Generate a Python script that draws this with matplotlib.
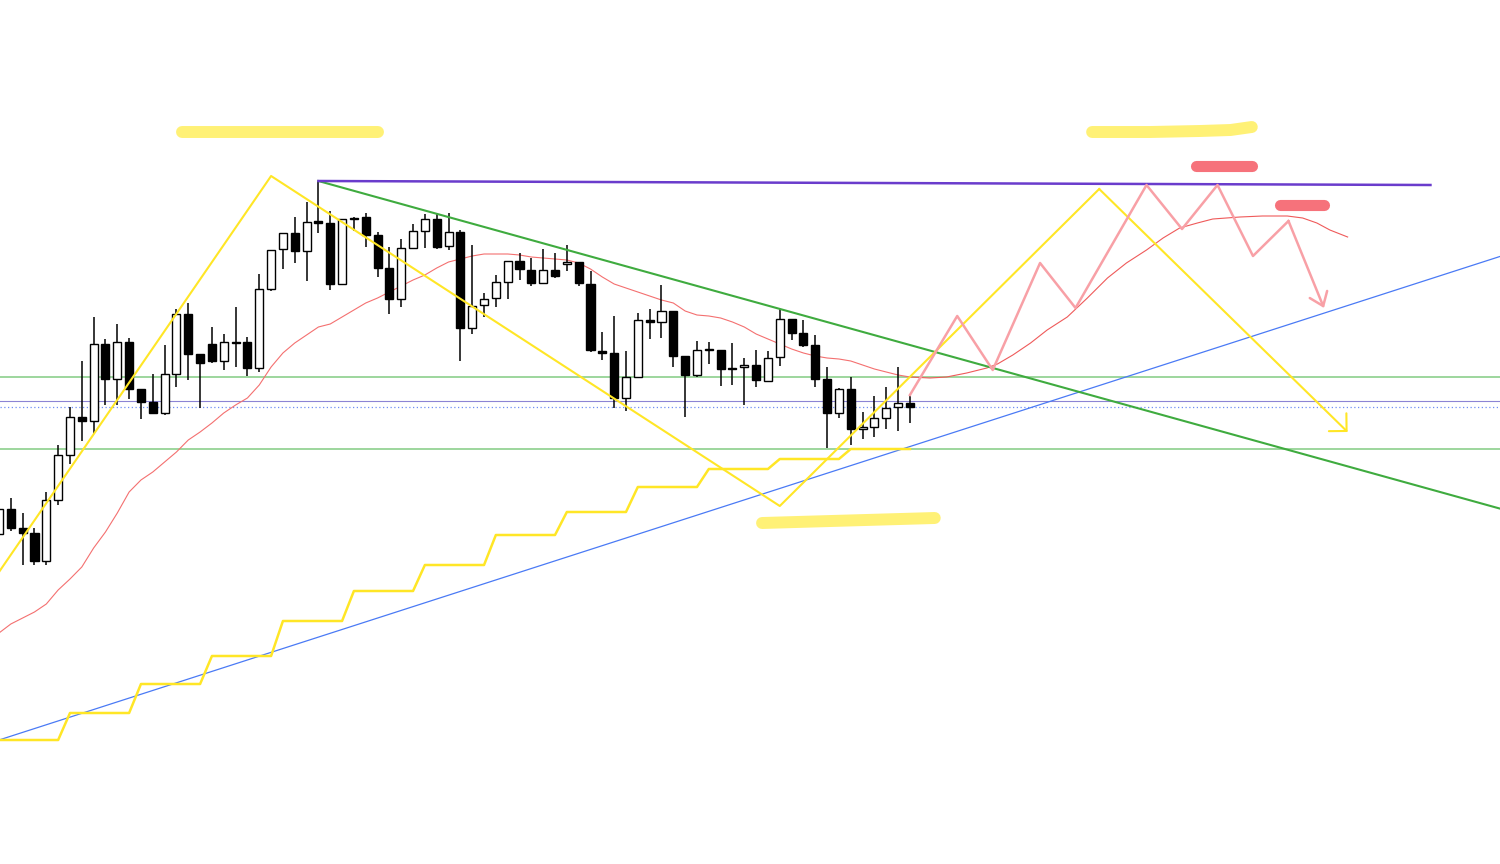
#Daily candles with hand drawn scenario lines (zigzags, trend lines, highlighter marks)
import numpy as np
import matplotlib.pyplot as plt
from matplotlib.patches import Rectangle

#%% CANDLE DATA (price units, index = bar number)
opens = [330, 355, 336, 331, 303, 364, 409, 447, 443, 520, 485, 522, 475, 462, 451, 490, 550, 510, 520, 503,
         522, 522, 496, 575, 615, 631, 613, 643, 641, 580, 646, 647, 629, 596, 565, 616, 633, 645, 618, 632,
         536, 559, 566, 582, 603, 594, 581, 594, 600, 602, 580, 513, 511, 466, 487, 544, 542, 553, 508, 489,
         514, 514, 496, 497, 499, 483, 507, 545, 531, 519, 485, 451, 475, 435, 437, 446, 457, 461]
highs = [359, 366, 351, 336, 372, 419, 457, 503, 547, 525, 540, 526, 475, 490, 519, 555, 561, 510, 537, 530,
         557, 527, 590, 614, 631, 647, 662, 683, 653, 645, 647, 651, 632, 617, 625, 640, 650, 651, 651, 634,
         619, 571, 589, 603, 611, 606, 615, 611, 619, 602, 593, 532, 548, 513, 551, 555, 579, 553, 508, 523,
         522, 514, 521, 506, 514, 513, 555, 545, 544, 529, 497, 476, 487, 452, 468, 477, 497, 468]
lows = [324, 333, 299, 299, 299, 359, 400, 423, 430, 459, 459, 465, 445, 451, 449, 477, 484, 456, 501, 494,
        497, 488, 492, 573, 595, 601, 583, 631, 574, 580, 633, 617, 587, 550, 557, 616, 616, 615, 614, 503,
        530, 547, 557, 565, 584, 578, 581, 586, 593, 578, 512, 504, 456, 453, 486, 525, 526, 497, 447, 487,
        500, 478, 479, 459, 477, 482, 498, 524, 517, 477, 416, 446, 419, 425, 427, 435, 433, 441]
closes = [355, 336, 331, 303, 364, 409, 447, 443, 520, 485, 522, 475, 462, 451, 490, 550, 510, 501, 503, 522,
          521, 496, 575, 614, 631, 613, 642, 641, 580, 645, 645, 629, 596, 565, 616, 633, 645, 617, 632, 536,
          558, 565, 582, 603, 595, 581, 594, 588, 602, 581, 514, 511, 466, 487, 544, 542, 553, 508, 489, 514,
          515, 495, 495, 499, 484, 506, 545, 531, 519, 485, 451, 475, 435, 437, 446, 456, 461, 457]

#Moving average (red), per bar
maValues = [231, 240, 246, 252, 260, 274, 285, 297, 316, 332, 351, 372, 384, 392, 402, 412, 424, 432, 441, 451,
            459, 466, 479, 497, 511, 521, 529, 537, 540, 547, 554, 561, 566, 572, 578, 584, 589, 596, 602, 605,
            608, 610, 610, 610, 609, 607, 606, 605, 604, 601, 595, 587, 580, 576, 572, 568, 564, 561, 553, 549,
            548, 546, 542, 537, 530, 525, 520, 515, 511, 508, 506, 505, 503, 499, 495, 492, 489, 487]
#Hand drawn continuation of the MA
maForecastX = [77, 78.7, 80.1, 81.8, 83.5, 84.4, 85.7, 87.2, 88.6, 90.3, 92.0, 93.7, 95.3, 97.0, 98.4, 99.8,
               101.3, 102.6, 104.9, 106.8, 108.9, 110.2, 111.4, 112.5, 114.0]
maForecastY = [487, 486, 487, 491, 496, 500, 509, 521, 534, 547, 566, 586, 601, 614, 626, 636,
               641, 645, 647, 648, 648, 646, 641, 634, 627]

#Yellow stepped line, per bar
stepValues = [124, 124, 124, 124, 124, 124, 151, 151, 151, 151, 151, 151, 180, 180, 180, 180, 180, 180,
              208, 208, 208, 208, 208, 208, 243, 243, 243, 243, 243, 243, 273, 273, 273, 273, 273, 273,
              299, 299, 299, 299, 299, 299, 329, 329, 329, 329, 329, 329, 352, 352, 352, 352, 352, 352,
              377, 377, 377, 377, 377, 377, 395, 395, 395, 395, 395, 395, 405, 405, 405, 405, 405, 405,
              415, 415, 415, 415, 415, 415]

#%% DRAWN OBJECTS (bar index, price)
yellowZigX = [0, 23, 66, 93, 114]
yellowZigY = [292, 688, 358, 675, 432]
pinkZigX = [77, 81, 84, 88, 91, 97, 100, 103, 106, 109, 112]
pinkZigY = [469, 548, 494, 601, 556, 679, 635, 679, 608, 643, 556]
blueTrendX = [0, 127]
blueTrendY = [124, 608]
greenTrendX = [27, 127]
greenTrendY = [683, 355]
purpleLineX = [27, 121]
purpleLineY = [683, 679]
greenLevels = [487, 415]
solidLevel = 463
dottedLevel = 457

#Highlighter strokes
yellowMarks = [([15.5, 32.0], [732, 732]),
               ([92.4, 97.3, 101.5, 104.1, 105.9], [732, 732, 733, 734, 737]),
               ([64.5, 79.1], [341, 346])]
redMarks = [([101.2, 105.9], [698, 698]),
            ([108.3, 112.0], [659, 659])]

#%% PLOT
fig = plt.figure(figsize=(15, 8.64), dpi=100)
ax = fig.add_axes([0, 0, 1, 1])
ax.set_xlim(0.085, 126.88)
ax.set_ylim(0, 864)
ax.axis('off')

bars = np.arange(len(opens))

#horizontal levels
for lvl in greenLevels:
    ax.axhline(lvl, color='#9dd69d', lw=1.4, zorder=1)
ax.axhline(solidLevel, color='#8c84d4', lw=0.8, zorder=1)
ax.axhline(dottedLevel, color='#6f8ff5', lw=0.9, ls=(0, (1, 2)), zorder=1)

#moving average
ax.plot(bars, maValues, color='#f47070', lw=0.8, zorder=2)
ax.plot(maForecastX, maForecastY, color='#ef5a5a', lw=0.8, zorder=2)

#candles
bodyWidth = 0.68
for i in bars:
    o, h, l, c = opens[i], highs[i], lows[i], closes[i]
    ax.vlines(i, l, h, color='black', lw=1.1, zorder=3)
    bottom = min(o, c)
    height = max(abs(c - o), 1.5)
    face = 'white' if c >= o else 'black'
    ax.add_patch(Rectangle((i - bodyWidth / 2, bottom), bodyWidth, height,
                           facecolor=face, edgecolor='black', lw=1.0, zorder=4))

#trend lines
ax.plot(blueTrendX, blueTrendY, color='#4a7af5', lw=0.9, zorder=5)
ax.plot(greenTrendX, greenTrendY, color='#3fab3f', lw=1.5, zorder=5)
ax.plot(purpleLineX, purpleLineY, color='#6a3ccc', lw=1.8, zorder=5)
ax.plot(bars, stepValues, color='#ffe626', lw=1.8, zorder=5)

#zigzags with arrow on last leg
ax.plot(yellowZigX[:-1], yellowZigY[:-1], color='#ffe626', lw=1.5, zorder=6)
ax.annotate('', xy=(yellowZigX[-1], yellowZigY[-1]), xytext=(yellowZigX[-2], yellowZigY[-2]),
            arrowprops=dict(arrowstyle='->,head_length=0.6,head_width=0.6', color='#ffe626', lw=1.5,
                            shrinkA=0, shrinkB=0, mutation_scale=15), zorder=6)
ax.plot(pinkZigX[:-1], pinkZigY[:-1], color='#f8a0a6', lw=1.8, zorder=6)
ax.annotate('', xy=(pinkZigX[-1], pinkZigY[-1]), xytext=(pinkZigX[-2], pinkZigY[-2]),
            arrowprops=dict(arrowstyle='->,head_length=0.6,head_width=0.45', color='#f8a0a6', lw=1.8,
                            shrinkA=0, shrinkB=0, mutation_scale=15), zorder=6)

#highlighter marks
for xs, ys in yellowMarks:
    ax.plot(xs, ys, color='#fff176', lw=8.6, solid_capstyle='round', solid_joinstyle='round', zorder=7)
for xs, ys in redMarks:
    ax.plot(xs, ys, color='#f6727b', lw=8.0, solid_capstyle='round', zorder=7)

fig.savefig('out.png', dpi=100, facecolor='white')
